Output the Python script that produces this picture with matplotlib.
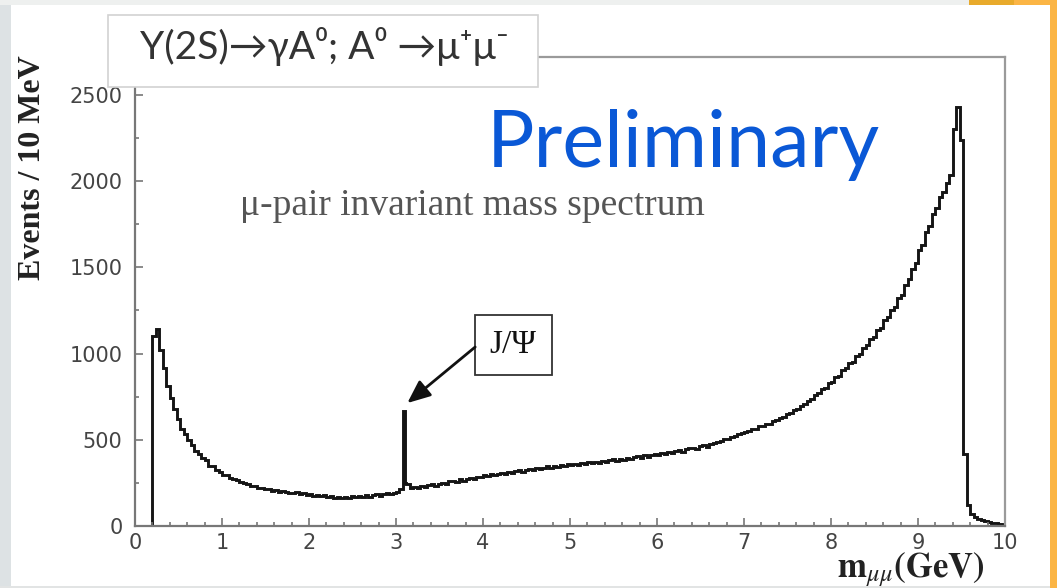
import numpy as np
import matplotlib
matplotlib.use("Agg")
import matplotlib.pyplot as plt
from matplotlib.patches import Rectangle
from matplotlib.ticker import MultipleLocator

plt.rcParams['mathtext.fontset'] = 'stix'

# dimuon invariant mass, 40 MeV steps from 0.2 to 10 GeV (J/psi bin split
# in two), counts per 10 MeV
BIN_LO = 0.20
BIN_W = 0.04
JPSI_SPLIT = 3.10
counts = [
    1100, 1145, 1020, 915, 812, 742, 676, 618, 562, 534,
    498, 472, 436, 418, 392, 381, 350, 347, 326, 314,
    298, 294, 281, 272, 266, 258, 248, 244, 234, 233,
    220, 223, 212, 215, 203, 209, 198, 201, 197, 191,
    192, 195, 185, 189, 181, 186, 176, 182, 172, 178,
    168, 174, 163, 171, 160, 169, 164, 172, 166, 174,
    168, 177, 171, 180, 183, 176, 186, 190, 184, 193,
    198, 212, 668, 250, 245, 221, 228, 222, 233, 226, 238,
    241, 234, 246, 251, 244, 259, 263, 255, 270, 262,
    274, 279, 272, 284, 287, 293, 288, 299, 295, 303,
    308, 301, 313, 307, 319, 323, 316, 327, 333, 325,
    337, 330, 339, 347, 338, 350, 344, 353, 348, 357,
    351, 362, 355, 367, 359, 369, 364, 374, 367, 379,
    373, 381, 386, 378, 390, 384, 395, 389, 400, 404,
    397, 409, 402, 414, 418, 411, 423, 416, 429, 423,
    434, 439, 431, 446, 450, 455, 447, 462, 468, 461,
    476, 482, 490, 492, 503, 506, 517, 521, 533, 537,
    546, 549, 561, 563, 578, 580, 594, 593, 611, 612,
    628, 633, 648, 655, 674, 680, 698, 705, 727, 737,
    759, 769, 797, 803, 829, 837, 864, 870, 904, 914,
    946, 953, 986, 1000, 1033, 1047, 1087, 1099, 1138, 1151,
    1195, 1210, 1255, 1271, 1320, 1341, 1395, 1432, 1493, 1527,
    1598, 1632, 1703, 1738, 1808, 1842, 1908, 1938, 1992, 2036,
    2300, 2430, 2240, 420, 120, 68, 50, 40, 33, 27,
    22, 18, 15, 10, 4,
]
edges = np.arange(len(counts)) * BIN_W + BIN_LO
edges = np.sort(np.append(edges, JPSI_SPLIT))

x_ticks = [0, 1, 2, 3, 4, 5, 6, 7, 8, 9, 10]
y_ticks = [0, 500, 1000, 1500, 2000, 2500]

W, H = 1057, 588
fig = plt.figure(figsize=(W / 100, H / 100), dpi=100, facecolor='white')

def px_rect(x0, y0, x1, y1, **kw):
    # rectangle given in pixel coordinates measured from the top-left corner
    r = Rectangle((x0 / W, 1 - y1 / H), (x1 - x0) / W, (y1 - y0) / H,
                  transform=fig.transFigure, **kw)
    fig.patches.append(r)
    return r

def px_text(x, y, s, **kw):
    return fig.text(x / W, 1 - y / H, s, **kw)

# slide frame around the plot
px_rect(0, 0, 11, H, facecolor='#dde2e4', edgecolor='none')
px_rect(0, 0, W, 5, facecolor='#eef0ef', edgecolor='none')
px_rect(0, 586, W, H, facecolor='#e2e4e4', edgecolor='none')
px_rect(969, 0, 1014, 5, facecolor='#e8aa2c', edgecolor='none')
px_rect(1014, 0, W, 5, facecolor='#fbb545', edgecolor='none')
px_rect(1050, 0, W, H, facecolor='#fbb545', edgecolor='none')

ax = fig.add_axes([135 / W, 1 - 526 / H, 870 / W, 469 / H])
ax.stairs(counts, edges, color='#151515', linewidth=2.1, baseline=0)

ax.set_xlim(0, 10)
ax.set_ylim(0, 2720)
ax.set_xticks(x_ticks)
ax.set_yticks(y_ticks)
ax.xaxis.set_minor_locator(MultipleLocator(0.2))
ax.yaxis.set_minor_locator(MultipleLocator(250))
ax.tick_params(which='both', direction='in', color='#777777', width=1.2,
               labelsize=15, labelcolor='#444444')
ax.tick_params(which='major', length=6)
ax.tick_params(which='minor', length=3)
ax.tick_params(axis='x', pad=5)
ax.tick_params(axis='y', pad=9)
for side in ['left', 'bottom']:
    ax.spines[side].set_color('#777777')
    ax.spines[side].set_linewidth(1.6)
for side in ['top', 'right']:
    ax.spines[side].set_color('#9a9a9a')
    ax.spines[side].set_linewidth(1.6)

# axis titles
px_text(33, 168, 'Events / 10 MeV', rotation=90, ha='center', va='center',
        family='Liberation Serif', fontweight='bold', fontsize=23,
        color='#222222')
px_text(985, 577, r'$\mathbf{m}_{\mu\mu}$' + r'$\mathbf{(GeV)}$',
        ha='right', va='baseline', fontsize=25, color='#222222')

# in-plot annotations
px_text(240, 215, u'\u03bc-pair invariant mass spectrum', ha='left',
        va='baseline', family='Liberation Serif', fontsize=27,
        color='#555555')
ax.text(4.345, 1050, u'J/\u03a8', ha='center', va='center',
        family='Liberation Serif', fontsize=24, color='#111111',
        bbox=dict(boxstyle='square,pad=0.45', facecolor='white',
                  edgecolor='#333333', linewidth=1.3))
ax.annotate('', xy=(3.13, 713), xytext=(3.91, 1038),
            arrowprops=dict(arrowstyle='-|>,head_length=0.7,head_width=0.3',
                            color='#111111', lw=2, mutation_scale=20,
                            shrinkA=0, shrinkB=0))

# decay channel label box on top of the frame
px_rect(108, 15, 538, 87, facecolor='white', edgecolor='#d2d2d2',
        linewidth=1.2, zorder=2)
px_text(140, 59, u'\u03a5(2S)\u2192\u03b3A\u2070; A\u2070 \u2192\u03bc\u207a\u03bc\u207b',
        ha='left', va='baseline', family=['Lato', 'DejaVu Sans'],
        fontsize=28, color='#333333', zorder=3)

px_text(487, 167, 'Preliminary', ha='left', va='baseline',
        family=['Lato', 'DejaVu Sans'], fontsize=57, color='#0a58d6',
        zorder=3)

fig.savefig('out.png', dpi=100, facecolor=fig.get_facecolor())
